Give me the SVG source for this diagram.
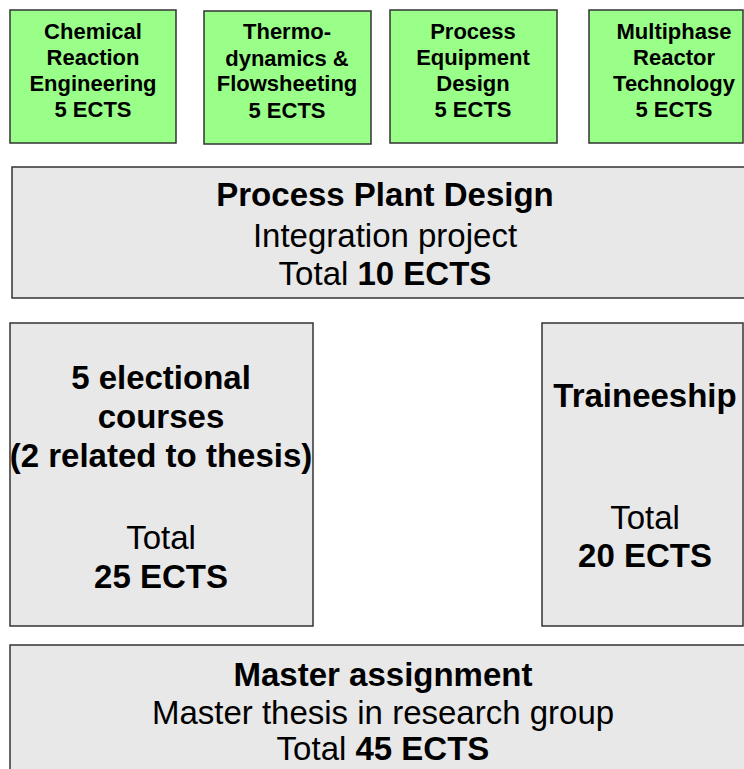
<svg xmlns="http://www.w3.org/2000/svg" width="744" height="769" viewBox="0 0 744 769">
<style>
.g{fill:#99ff88;stroke:#333;stroke-width:1.5}
.b{fill:#e8e8e8;stroke:#333;stroke-width:1.5}
text{font-family:"Liberation Sans",Arial,sans-serif;fill:#000;text-anchor:middle}
.s{font-size:22px;font-weight:bold}
.l{font-size:33px}
.lb{font-size:33px;font-weight:bold}
.bo{font-weight:bold}
</style>
<rect width="744" height="769" fill="#fff"/>
<g id="cre">
<rect class="g" x="10" y="10" width="166" height="133"/>
<text class="s" x="93" y="39">Chemical</text>
<text class="s" x="93" y="65">Reaction</text>
<text class="s" x="93" y="91">Engineering</text>
<text class="s" x="93" y="117">5 ECTS</text>
</g>
<g id="thermo">
<rect class="g" x="204" y="11" width="167" height="133"/>
<text class="s" x="287" y="39">Thermo-</text>
<text class="s" x="287" y="66">dynamics &amp;</text>
<text class="s" x="287" y="91">Flowsheeting</text>
<text class="s" x="287" y="118">5 ECTS</text>
</g>
<g id="ped">
<rect class="g" x="390" y="10" width="167" height="133"/>
<text class="s" x="473" y="39">Process</text>
<text class="s" x="473" y="65">Equipment</text>
<text class="s" x="473" y="91">Design</text>
<text class="s" x="473" y="117">5 ECTS</text>
</g>
<g id="mrt">
<rect class="g" x="589" y="10" width="154" height="133"/>
<text class="s" x="674" y="39">Multiphase</text>
<text class="s" x="674" y="65">Reactor</text>
<text class="s" x="674" y="91">Technology</text>
<text class="s" x="674" y="117">5 ECTS</text>
</g>
<g id="ppd">
<rect class="b" x="12" y="167" width="760" height="131"/>
<text class="lb" x="385" y="206">Process Plant Design</text>
<text class="l" x="385" y="247">Integration project</text>
<text class="l" x="385" y="285">Total <tspan class="bo">10 ECTS</tspan></text>
</g>
<g id="elect">
<rect class="b" x="10" y="323" width="303" height="303"/>
<text class="lb" x="161" y="389">5 electional</text>
<text class="lb" x="161" y="428">courses</text>
<text class="lb" x="161" y="467">(2 related to thesis)</text>
<text class="l" x="161" y="549">Total</text>
<text class="lb" x="161" y="588">25 ECTS</text>
</g>
<g id="train">
<rect class="b" x="542" y="323" width="201" height="303"/>
<text class="lb" x="645" y="407">Traineeship</text>
<text class="l" x="645" y="529">Total</text>
<text class="lb" x="645" y="567">20 ECTS</text>
</g>
<g id="master">
<rect class="b" x="10" y="645" width="760" height="140"/>
<text class="lb" x="383" y="686">Master assignment</text>
<text class="l" x="383" y="724">Master thesis in research group</text>
<text class="l" x="383" y="760">Total <tspan class="bo">45 ECTS</tspan></text>
</g>
<g id="connectors"/>
</svg>
